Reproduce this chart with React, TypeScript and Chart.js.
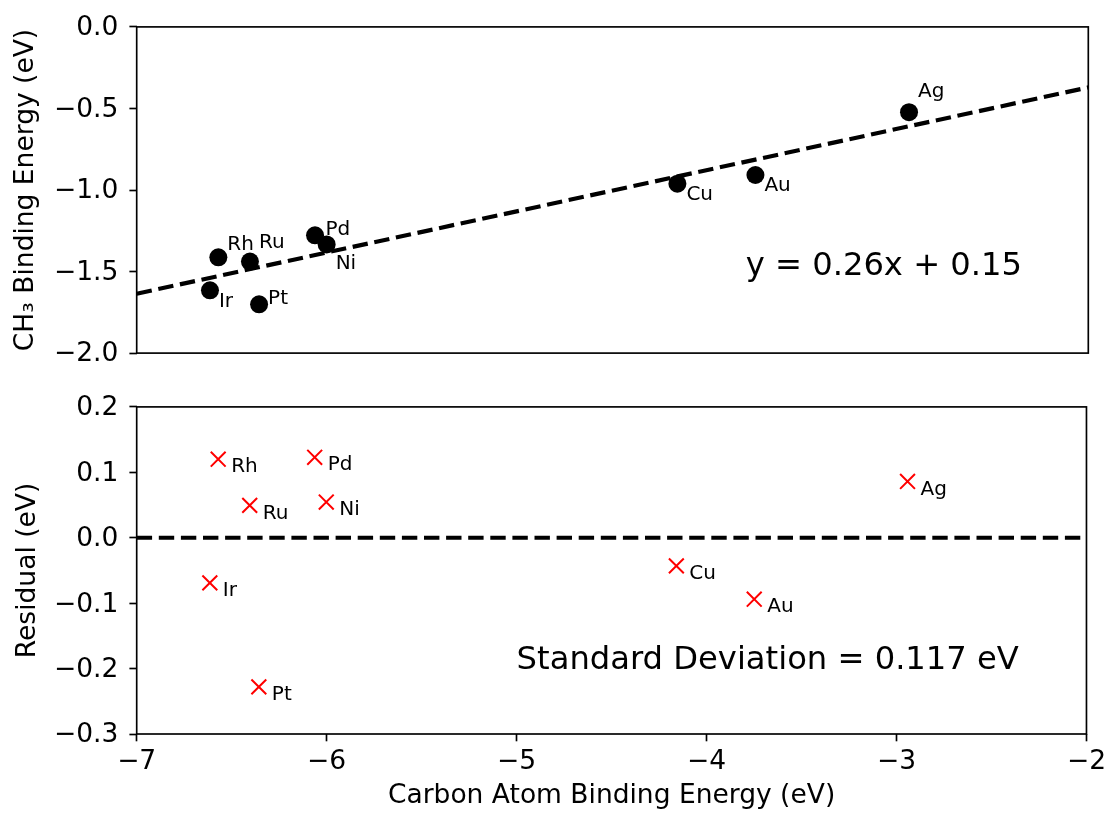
import React, { useEffect, useRef } from "react";
import { Chart, registerables } from "chart.js";

Chart.register(...registerables);

// ---------------- data ----------------
const metals = ["Ag", "Au", "Cu", "Pd", "Ni", "Rh", "Ru", "Ir", "Pt"];
const carbonBE = [-2.942, -3.749, -4.159, -6.063, -6.002, -6.571, -6.405, -6.615, -6.357];
const ch3BE = [-0.523, -0.908, -0.961, -1.278, -1.334, -1.413, -1.439, -1.615, -1.701];
const residuals = [0.086, -0.094, -0.043, 0.123, 0.0545, 0.12, 0.0495, -0.069, -0.228];
const fitX = [-7, -2];
const fitY = [-1.636, -0.371];
const zeroX = [-7, -2];
const zeroY = [0, 0];
const xTicks = [-7, -6, -5, -4, -3, -2];
const topYTicks = [0, -0.5, -1, -1.5, -2];
const botYTicks = [0.2, 0.1, 0, -0.1, -0.2, -0.3];
const fitText = "y = 0.26x + 0.15";
const fitTextPos = [-3.8, -1.52];
const stdText = "Standard Deviation = 0.117 eV";
const stdTextPos = [-5, -0.2];
const topYTitle = "CH\u2083 Binding Energy (eV)";
const botYTitle = "Residual (eV)";
const xTitle = "Carbon Atom Binding Energy (eV)";

// ---------------- layout / style ----------------
const W = 1111;
const PLOT_LEFT = 136.7;
const PLOT_RIGHT = 1088.3;
const TOP_H = 380;
const BOT_H = 435;
const FAMILY = "'DejaVu Sans', sans-serif";
const TICK_FONT = 26.5;
const NOTE_FONT = 32.2;
const LABEL_FONT = 20;
// per-label pixel offsets (text origin relative to marker centre)
const topLabelOffsets = [
  [9, -15],
  [9, 16.5],
  [9, 16.3],
  [10.5, 0],
  [9, 25],
  [9, -7.3],
  [9, -13.4],
  [9, 16.6],
  [9, 0],
];
const botLabelOffset = [13, 13.2];

const minus = (s: string) => s.replace("-", "\u2212");
const fmt = (d: number) => (v: any) => minus(Number(v).toFixed(d));

const framePlugin = {
  id: "frame",
  afterDatasetsDraw(chart: any) {
    const { ctx, chartArea: a } = chart;
    ctx.save();
    ctx.strokeStyle = "#000";
    ctx.lineWidth = 1.67;
    ctx.strokeRect(a.left, a.top, a.right - a.left, a.bottom - a.top);
    ctx.restore();
  },
};

function textPlugin(ys: number[], offsets: number[][], note: string, notePos: number[]) {
  return {
    id: "texts",
    afterDatasetsDraw(chart: any) {
      const ctx = chart.ctx;
      const sx = chart.scales.x;
      const sy = chart.scales.y;
      ctx.save();
      ctx.fillStyle = "#000";
      ctx.textAlign = "left";
      ctx.textBaseline = "alphabetic";
      ctx.font = `${LABEL_FONT}px ${FAMILY}`;
      metals.forEach((m, i) => {
        const px = sx.getPixelForValue(carbonBE[i]) + offsets[i][0];
        const py = sy.getPixelForValue(ys[i]) + offsets[i][1];
        ctx.fillText(m, px, py);
      });
      ctx.font = `${NOTE_FONT}px ${FAMILY}`;
      ctx.fillText(note, sx.getPixelForValue(notePos[0]), sy.getPixelForValue(notePos[1]));
      ctx.restore();
    },
  };
}

const tickGrid = {
  display: true,
  drawOnChartArea: false,
  drawTicks: true,
  tickLength: 7.3,
  tickWidth: 1.67,
  tickColor: "#000",
};

function yScale(min: number, max: number, ticks: number[], title: string, titlePad: number) {
  return {
    type: "linear",
    min,
    max,
    afterFit: (s: any) => {
      s.width = PLOT_LEFT;
    },
    afterBuildTicks: (s: any) => {
      s.ticks = ticks.map((v) => ({ value: v }));
    },
    ticks: {
      callback: fmt(1),
      color: "#000",
      font: { family: FAMILY, size: TICK_FONT },
      padding: 11,
      labelOffset: 1.5,
    },
    grid: tickGrid,
    border: { display: false },
    title: {
      display: true,
      text: title,
      color: "#000",
      font: { family: FAMILY, size: TICK_FONT },
      padding: { top: titlePad, bottom: 0 },
    },
  };
}

export default function App() {
  const topRef = useRef<HTMLCanvasElement>(null);
  const botRef = useRef<HTMLCanvasElement>(null);

  useEffect(() => {
    const topChart = new Chart(topRef.current as HTMLCanvasElement, {
      type: "scatter",
      data: {
        datasets: [
          {
            data: carbonBE.map((x, i) => ({ x, y: ch3BE[i] })),
            backgroundColor: "#000",
            borderColor: "#000",
            pointRadius: 9,
            pointHoverRadius: 9,
            pointBorderWidth: 0,
          },
          {
            data: fitX.map((x, i) => ({ x, y: fitY[i] })),
            showLine: true,
            borderColor: "#000",
            borderWidth: 4.17,
            borderDash: [15.4, 6.7],
            pointRadius: 0,
            pointHoverRadius: 0,
            fill: false,
          },
        ],
      } as any,
      options: {
        responsive: false,
        animation: false,
        devicePixelRatio: 1,
        events: [],
        layout: { padding: { left: 0, right: W - PLOT_RIGHT, top: 24, bottom: TOP_H - 354.3 } },
        plugins: { legend: { display: false }, tooltip: { enabled: false } },
        scales: {
          x: { type: "linear", min: -7, max: -2, display: false },
          y: yScale(-2, 0, topYTicks, topYTitle, 10),
        },
      } as any,
      plugins: [framePlugin, textPlugin(ch3BE, topLabelOffsets, fitText, fitTextPos)] as any,
    });

    const botOffsets = metals.map(() => botLabelOffset);
    const botChart = new Chart(botRef.current as HTMLCanvasElement, {
      type: "scatter",
      data: {
        datasets: [
          {
            data: carbonBE.map((x, i) => ({ x, y: residuals[i] })),
            pointStyle: "crossRot",
            backgroundColor: "red",
            borderColor: "red",
            pointRadius: 10.5,
            pointHoverRadius: 10.5,
            pointBorderWidth: 2,
          },
          {
            data: zeroX.map((x, i) => ({ x, y: zeroY[i] })),
            showLine: true,
            borderColor: "#000",
            borderWidth: 4.17,
            borderDash: [15.4, 6.7],
            pointRadius: 0,
            pointHoverRadius: 0,
            fill: false,
          },
        ],
      } as any,
      options: {
        responsive: false,
        animation: false,
        devicePixelRatio: 1,
        events: [],
        layout: { padding: { left: 0, right: W - PLOT_RIGHT, top: 24, bottom: 0 } },
        plugins: { legend: { display: false }, tooltip: { enabled: false } },
        scales: {
          x: {
            type: "linear",
            min: -7,
            max: -2,
            afterFit: (s: any) => {
              s.height = BOT_H - 354;
            },
            afterBuildTicks: (s: any) => {
              s.ticks = xTicks.map((v) => ({ value: v }));
            },
            ticks: {
              callback: fmt(0),
              color: "#000",
              font: { family: FAMILY, size: TICK_FONT },
              padding: 5,
              maxRotation: 0,
              autoSkip: false,
            },
            grid: tickGrid,
            border: { display: false },
            title: {
              display: true,
              text: xTitle,
              color: "#000",
              font: { family: FAMILY, size: TICK_FONT },
              padding: { top: 0, bottom: 3 },
            },
          },
          y: yScale(-0.3, 0.2, botYTicks, botYTitle, 12),
        },
      } as any,
      plugins: [framePlugin, textPlugin(residuals, botOffsets, stdText, stdTextPos)] as any,
    });

    return () => {
      topChart.destroy();
      botChart.destroy();
    };
  }, []);

  return (
    <div style={{ position: "absolute", left: 0, top: 0, width: W, height: 815, background: "#fff" }}>
      <canvas ref={topRef} width={W} height={TOP_H} style={{ position: "absolute", left: 0, top: 0 }} />
      <canvas ref={botRef} width={W} height={BOT_H} style={{ position: "absolute", left: 0, top: TOP_H }} />
    </div>
  );
}
